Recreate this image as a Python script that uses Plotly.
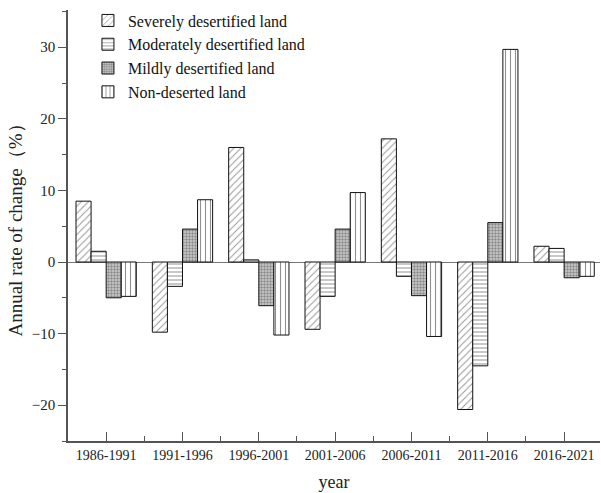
import plotly.graph_objects as go

categories = ["1986-1991", "1991-1996", "1996-2001", "2001-2006", "2006-2011", "2011-2016", "2016-2021"]
severe = [8.5, -9.8, 16.0, -9.4, 17.2, -20.6, 2.2]
moderate = [1.5, -3.4, 0.3, -4.8, -2.0, -14.5, 1.9]
mild = [-5.0, 4.6, -6.1, 4.6, -4.7, 5.5, -2.2]
non_deserted = [-4.8, 8.7, -10.2, 9.7, -10.4, 29.7, -2.0]

series_names = ["Severely desertified land", "Moderately desertified land",
                "Mildly desertified land", "Non-deserted land"]
series_values = [severe, moderate, mild, non_deserted]
patterns = [
    dict(shape="/", size=5, solidity=0.18, fgcolor="#222", bgcolor="white", fillmode="overlay"),
    dict(shape="-", size=4, solidity=0.25, fgcolor="#222", bgcolor="white", fillmode="overlay"),
    dict(shape=".", size=3, solidity=0.5, fgcolor="#444", bgcolor="#cfcfcf", fillmode="overlay"),
    dict(shape="|", size=5, solidity=0.22, fgcolor="#222", bgcolor="white", fillmode="overlay"),
]

x_idx = list(range(len(categories)))
font_family = "Liberation Serif"

fig = go.Figure()
for name, vals, pat in zip(series_names, series_values, patterns):
    fig.add_trace(go.Bar(
        x=x_idx, y=vals, name=name,
        marker=dict(color="white", pattern=pat, line=dict(color="#111", width=1)),
    ))

fig.update_layout(
    width=601, height=493,
    margin=dict(l=68, r=1, t=10, b=52, autoexpand=False),
    paper_bgcolor="white", plot_bgcolor="white",
    barmode="group", bargap=0.21, bargroupgap=0,
    font=dict(family=font_family, size=13, color="#222"),
    showlegend=True,
    legend=dict(x=0.0375, y=1.015, xanchor="left", yanchor="top",
                bgcolor="rgba(0,0,0,0)", font=dict(size=16, family=font_family, color="#111"),
                tracegroupgap=0, itemwidth=30),
)
fig.update_xaxes(
    range=[-0.5, 6.47], automargin=False,
    tickmode="array", tickvals=x_idx, ticktext=categories,
    ticks="inside", ticklen=9, tickcolor="#555", tickwidth=1,
    minor=dict(tickmode="linear", tick0=0.5, dtick=1, ticks="inside", ticklen=5, tickcolor="#555"),
    showline=True, linecolor="#555", linewidth=1.5,
    showgrid=False, zeroline=False,
    tickfont=dict(size=14, family=font_family),
    title=dict(text="year", font=dict(size=18, family=font_family), standoff=14),
)
fig.update_yaxes(
    range=[-25, 35.2], automargin=False,
    tickmode="linear", tick0=0, dtick=10,
    ticks="outside", ticklen=8, tickcolor="#555", tickwidth=1,
    minor=dict(tickmode="linear", tick0=5, dtick=10, ticks="outside", ticklen=4, tickcolor="#555"),
    showline=True, linecolor="#555", linewidth=1.5,
    showgrid=False, zeroline=True, zerolinecolor="#777", zerolinewidth=1,
    tickfont=dict(size=15, family=font_family),
    title=dict(text="Annual rate of change（%）", font=dict(size=19, family=font_family), standoff=4),
)

fig.write_html("out.html", config={"displayModeBar": False},
               post_script="document.body.style.margin='0';")
